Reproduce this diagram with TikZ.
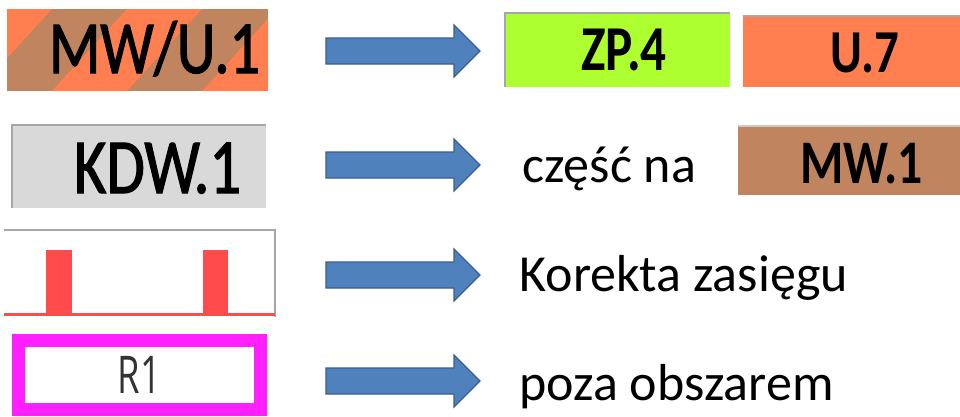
\documentclass[tikz,border=0pt]{standalone}
\usepackage{fontspec}
\setmainfont{Carlito}
\newfontfamily\waski[FakeStretch=0.8]{Carlito}
\newfontfamily\sredni[FakeStretch=0.8,FakeBold=1.5]{Carlito}
\newfontfamily\cienki[FakeStretch=0.7]{Open Sans}
\definecolor{pomarancz}{HTML}{FF7F50}
\definecolor{braz}{HTML}{C0845E}
\definecolor{zielen}{HTML}{ADFF2F}
\definecolor{popiel}{HTML}{D9D9D9}
\definecolor{ramka}{HTML}{A6A6A6}
\definecolor{fiolet}{HTML}{FF1FFF}
\definecolor{czerwien}{HTML}{FF4B4B}
\definecolor{niebieski}{HTML}{4F81BD}
\definecolor{granat}{HTML}{3A5F8E}
\definecolor{grafit}{HTML}{333333}
\tikzset{
  kafel/.style={inner sep=0pt, outer sep=0pt},
  strzalka/.style={draw=granat, fill=niebieski, line width=1.2pt, line join=miter},
  opis/.style={anchor=base west, font=\fontsize{52}{60}\selectfont},
  znak/.style={anchor=base, text=black},
}

\begin{document}
\begin{tikzpicture}[x=1pt,y=-1pt]
	\useasboundingbox (0,0) rectangle (960,416);
	% wiersz 1
	\node[kafel, fill=braz, minimum width=261pt, minimum height=82pt] (mwu) at (137.5,50) {};
	\begin{scope}
		\clip (mwu.south west) rectangle (mwu.north east);
		\foreach \b in {-98,52,202} % paski
			\fill[pomarancz] (\b,91) -- (\b+75,91) -- (\b+150,9) -- (\b+75,9) -- cycle;
	\end{scope}
	\node[znak, font=\sredni\fontsize{75}{80}\selectfont] (tmwu) at (154.5,73) {MW/U.1};
	\node[kafel, fill=zielen, minimum width=225pt, minimum height=74pt] (zp) at (617.5,50) {};
	\draw[ramka, line width=2pt] (zp.south west) -- (zp.north west) -- (zp.north east);
	\node[znak, font=\waski\bfseries\fontsize{64}{70}\selectfont] (tzp) at (624,70) {ZP.4};
	\node[kafel, fill=pomarancz, minimum width=217pt, minimum height=71pt] (u) at (851.5,51.5) {};
	\draw[ramka, line width=1.5pt] (u.north west) -- (u.north east);
	\node[znak, font=\waski\bfseries\fontsize{61}{70}\selectfont] (tu) at (865,72) {U.7};
	% wiersz 2
	\node[kafel, fill=popiel, minimum width=254pt, minimum height=83pt] (kdw) at (139,166.5) {};
	\draw[ramka, line width=2pt] (kdw.south west) -- (kdw.north west) -- (kdw.north east);
	\node[znak, font=\sredni\fontsize{78}{80}\selectfont] (tkdw) at (157.5,193) {KDW.1};
	\node[opis] (czesc) at (519,182) {część na};
	\node[kafel, fill=braz, minimum width=222pt, minimum height=69pt] (mw) at (849,160.5) {};
	\draw[ramka!60, line width=1.5pt] (mw.north west) -- (mw.north east);
	\node[znak, font=\waski\bfseries\fontsize{62}{70}\selectfont] (tmw) at (861.5,183) {MW.1};
	% wiersz 3
	\draw[ramka, line width=2pt] (4,230) -- (275,230) -- (275,317);
	\draw[czerwien, line width=3pt] (4,314.5) -- (275,314.5);
	\fill[czerwien] (46,250) rectangle (72,316); % slupki
	\fill[czerwien] (203,250) rectangle (228,316);
	\node[opis] (korekta) at (516,291) {Korekta zasięgu};
	% wiersz 4
	\node[kafel, draw=fiolet, line width=13pt, minimum width=242pt, minimum height=69pt,
		text=grafit, font=\cienki\fontsize{52}{60}\selectfont] (r1) at (139.5,375) {R1};
	\node[opis] (poza) at (516,400) {poza obszarem};
	% strzalki
	\foreach \n/\y in {1/51,2/165,3/275,4/381} {
		\coordinate (s\n) at (326,\y);
		\filldraw[strzalka] (s\n) ++(0,-13) -- ++(128,0) -- ++(0,-13) -- ++(26,26)
			-- ++(-26,26) -- ++(0,-13) -- ++(-128,0) -- cycle;
	}
\end{tikzpicture}
\end{document}
